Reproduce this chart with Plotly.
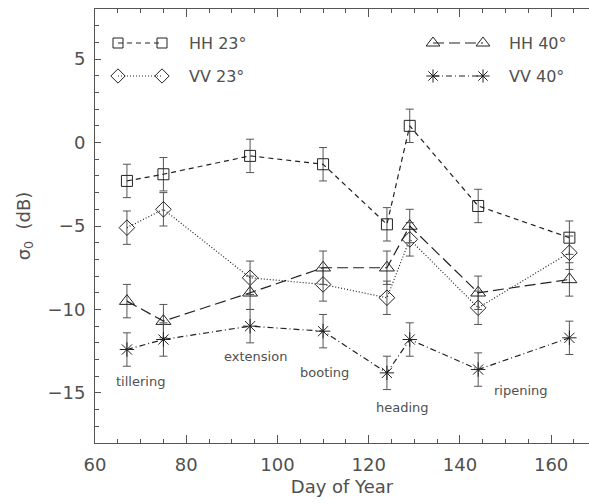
import plotly.graph_objects as go

# ---- data ----
days = [67, 75, 94, 110, 124, 129, 144, 164]
hh23 = [-2.3, -1.9, -0.8, -1.3, -4.9, 1.0, -3.8, -5.7]
vv23 = [-5.1, -4.0, -8.1, -8.5, -9.3, -5.8, -9.9, -6.6]
hh40 = [-9.5, -10.7, -9.0, -7.5, -7.5, -5.0, -9.0, -8.2]
vv40 = [-12.4, -11.8, -11.0, -11.3, -13.8, -11.8, -13.6, -11.7]
err = 1.0

series_names = ["HH 23°", "VV 23°", "HH 40°", "VV 40°"]
stage_labels = ["tillering", "extension", "booting", "heading", "ripening"]
stage_x = [69.9, 95.1, 110.4, 127.5, 153.4]
stage_y = [-14.3, -12.8, -13.8, -15.85, -14.85]

x_range = [60, 168.3]
y_range = [-18, 8]

FONT = "DejaVu Sans"
TXT = "#505050"
LC = "#222222"
AX = "#555555"
CLEAR = "rgba(0,0,0,0)"

styles = [
    dict(symbol="square-open", dash="5px,4px", size=11),
    dict(symbol="diamond-open", dash="1px,2px", size=12),
    dict(symbol="triangle-up-open", dash="11px,5px", size=13),
    dict(symbol="asterisk-open", dash="6px,3px,1px,3px", size=12),
]
values = [hh23, vv23, hh40, vv40]

fig = go.Figure()
for name, vals, st in zip(series_names, values, styles):
    fig.add_trace(go.Scatter(
        x=days, y=vals, mode="lines+markers", name=name, showlegend=False,
        line=dict(color=LC, width=1.2, dash=st["dash"]),
        marker=dict(symbol=st["symbol"], size=st["size"], color=LC,
                    line=dict(color=LC, width=1)),
        error_y=dict(type="constant", value=err, width=4, thickness=1, color="#555555"),
    ))

# legend samples on a pixel overlay axis (page pixel coordinates)
leg_rows = [
    (118, 162, 43, 187),
    (118, 162, 76, 187),
    (433, 483, 43, 507),
    (433, 483, 76, 507),
]
for name, st, (x0, x1, yy, tx) in zip(series_names, styles, leg_rows):
    fig.add_trace(go.Scatter(
        x=[x0, x1], y=[yy, yy], xaxis="x3", yaxis="y3", mode="lines+markers",
        showlegend=False, hoverinfo="skip",
        line=dict(color=LC, width=1.2, dash=st["dash"]),
        marker=dict(symbol=st["symbol"], size=st["size"] - 1, color=LC,
                    line=dict(color=LC, width=1)),
    ))
    fig.add_annotation(x=tx, y=yy, xref="x3", yref="y3", text=name,
                       showarrow=False, xanchor="left", yanchor="middle",
                       font=dict(family=FONT, size=16, color=TXT))

for lab, sx, sy in zip(stage_labels, stage_x, stage_y):
    fig.add_annotation(x=sx, y=sy, text=lab, showarrow=False,
                       font=dict(family=FONT, size=13, color=TXT))

fig.update_layout(
    width=589, height=504,
    margin=dict(l=95, r=0, t=9, b=61, autoexpand=False),
    paper_bgcolor="white", plot_bgcolor="white",
    showlegend=False,
    font=dict(family=FONT, color=TXT),
    xaxis=dict(
        range=x_range, showgrid=False, zeroline=False, automargin=False,
        showline=True, linecolor=AX, linewidth=1, mirror="allticks",
        ticks="inside", ticklen=8, tickcolor=AX, dtick=20, tick0=0,
        minor=dict(ticks="inside", ticklen=4, dtick=5, tickcolor=AX, showgrid=False),
        tickfont=dict(family=FONT, size=18, color=TXT),
        ticklabelstandoff=5,
        title=dict(text="Day of Year", font=dict(family=FONT, size=18, color=TXT), standoff=6),
    ),
    yaxis=dict(
        range=y_range, showgrid=False, zeroline=False, automargin=False,
        showline=True, linecolor=AX, linewidth=1, mirror=False,
        ticks="inside", ticklen=6, tickcolor=AX, dtick=5, tick0=0,
        minor=dict(ticks="inside", ticklen=4, dtick=1, tickcolor=AX, showgrid=False),
        tickfont=dict(family=FONT, size=18, color=TXT),
        ticklabelstandoff=5,
        title=dict(text="σ<sub>0</sub>  (dB)", font=dict(family=FONT, size=18, color=TXT), standoff=12),
    ),
    yaxis2=dict(
        overlaying="y", side="right", range=y_range, showgrid=False, zeroline=False,
        showline=False, linecolor=CLEAR, showticklabels=False, ticks="inside", ticklen=5,
        automargin=False, tickcolor=AX, dtick=5, tick0=0,
    ),
    xaxis3=dict(overlaying="x", range=[95, 589], visible=False, showline=False,
                linecolor=CLEAR, zeroline=False, showgrid=False),
    yaxis3=dict(overlaying="y", range=[443, 9], visible=False, showline=False,
                linecolor=CLEAR, zeroline=False, showgrid=False),
)

fig.write_html(
    "out.html",
    config={"displayModeBar": False},
    post_script="document.body.style.margin='0';document.body.style.overflow='hidden';",
)
